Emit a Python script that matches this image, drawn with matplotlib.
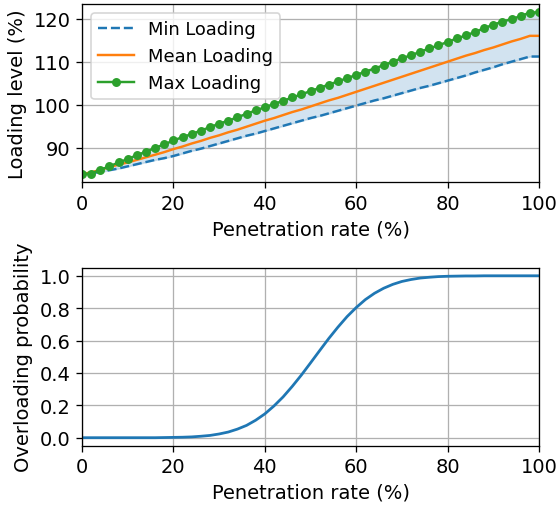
import numpy as np
import matplotlib
matplotlib.use("Agg")
import matplotlib.pyplot as plt

# penetration rate steps (%)
rate = np.arange(0, 101, 2)

min_loading = [83.9, 84.1, 84.4, 84.8, 85.2, 85.7, 86.2, 86.7, 87.2, 87.6, 88.1,
               88.7, 89.3, 89.8, 90.4, 91.0, 91.6, 92.2, 92.8, 93.3, 93.9,
               94.5, 95.1, 95.7, 96.3, 96.9, 97.4, 98.0, 98.6, 99.2, 99.8,
               100.4, 101.0, 101.5, 102.1, 102.7, 103.3, 103.9, 104.4, 105.0, 105.6,
               106.2, 106.8, 107.5, 108.1, 108.7, 109.4, 110.0, 110.6, 111.2, 111.2]

mean_loading = [83.9, 84.3, 84.9, 85.5, 86.1, 86.6, 87.2, 87.8, 88.4, 89.0, 89.7,
                90.3, 91.0, 91.6, 92.3, 92.9, 93.6, 94.2, 94.9, 95.6, 96.3,
                96.9, 97.6, 98.3, 98.9, 99.6, 100.3, 101.0, 101.6, 102.3, 103.0,
                103.7, 104.4, 105.1, 105.8, 106.5, 107.2, 107.9, 108.6, 109.3, 110.0,
                110.7, 111.4, 112.0, 112.7, 113.3, 114.0, 114.7, 115.3, 116.0, 116.0]

max_loading = [83.9, 84.0, 84.9, 85.7, 86.6, 87.4, 88.3, 89.1, 90.0, 90.8, 91.7,
               92.5, 93.2, 94.0, 94.8, 95.6, 96.3, 97.1, 97.9, 98.7, 99.4,
               100.2, 100.9, 101.7, 102.4, 103.2, 103.9, 104.7, 105.4, 106.2, 106.9,
               107.7, 108.4, 109.2, 110.0, 110.8, 111.5, 112.3, 113.1, 113.8, 114.6,
               115.4, 116.1, 116.9, 117.8, 118.6, 119.3, 119.9, 120.6, 121.4, 121.5]

overload_prob = [0.000, 0.000, 0.000, 0.000, 0.000, 0.000, 0.000, 0.000, 0.000, 0.001, 0.002,
                 0.003, 0.005, 0.009, 0.014, 0.023, 0.035, 0.053, 0.076, 0.108, 0.147,
                 0.196, 0.252, 0.317, 0.387, 0.462, 0.538, 0.613, 0.683, 0.748, 0.804,
                 0.853, 0.892, 0.923, 0.947, 0.965, 0.977, 0.986, 0.991, 0.995, 0.997,
                 0.998, 0.999, 0.999, 1.000, 1.000, 1.000, 1.000, 1.000, 1.000, 1.000]

plt.rcParams['font.size'] = 12

dpi = 117
fig = plt.figure(figsize=(558 / dpi, 506 / dpi), dpi=dpi)
ax1 = fig.add_axes([0.147, 0.638, 0.819, 0.352])
ax2 = fig.add_axes([0.147, 0.117, 0.819, 0.352])

# loading levels
ax1.plot(rate, min_loading, '--', color='C0', label='Min Loading')
ax1.plot(rate, mean_loading, '-', color='C1', label='Mean Loading')
ax1.plot(rate, max_loading, '-o', color='C2', markersize=4.5, label='Max Loading')
ax1.fill_between(rate, min_loading, max_loading, color='C0', alpha=0.2)
ax1.set_xlim(0, 100)
ax1.set_yticks([90, 100, 110, 120])
ax1.set_xlabel("Penetration rate (%)")
ax1.set_ylabel("Loading level (%)")
ax1.grid(True)
ax1.legend(loc='upper left', fontsize=11)

# overloading probability
ax2.plot(rate, overload_prob, color='C0', linewidth=1.7)
ax2.set_xlim(0, 100)
ax2.set_yticks([0.0, 0.2, 0.4, 0.6, 0.8, 1.0])
ax2.set_xlabel("Penetration rate (%)")
ax2.set_ylabel("Overloading probability")
ax2.grid(True)

plt.savefig("out.png", dpi=dpi)
plt.close()
